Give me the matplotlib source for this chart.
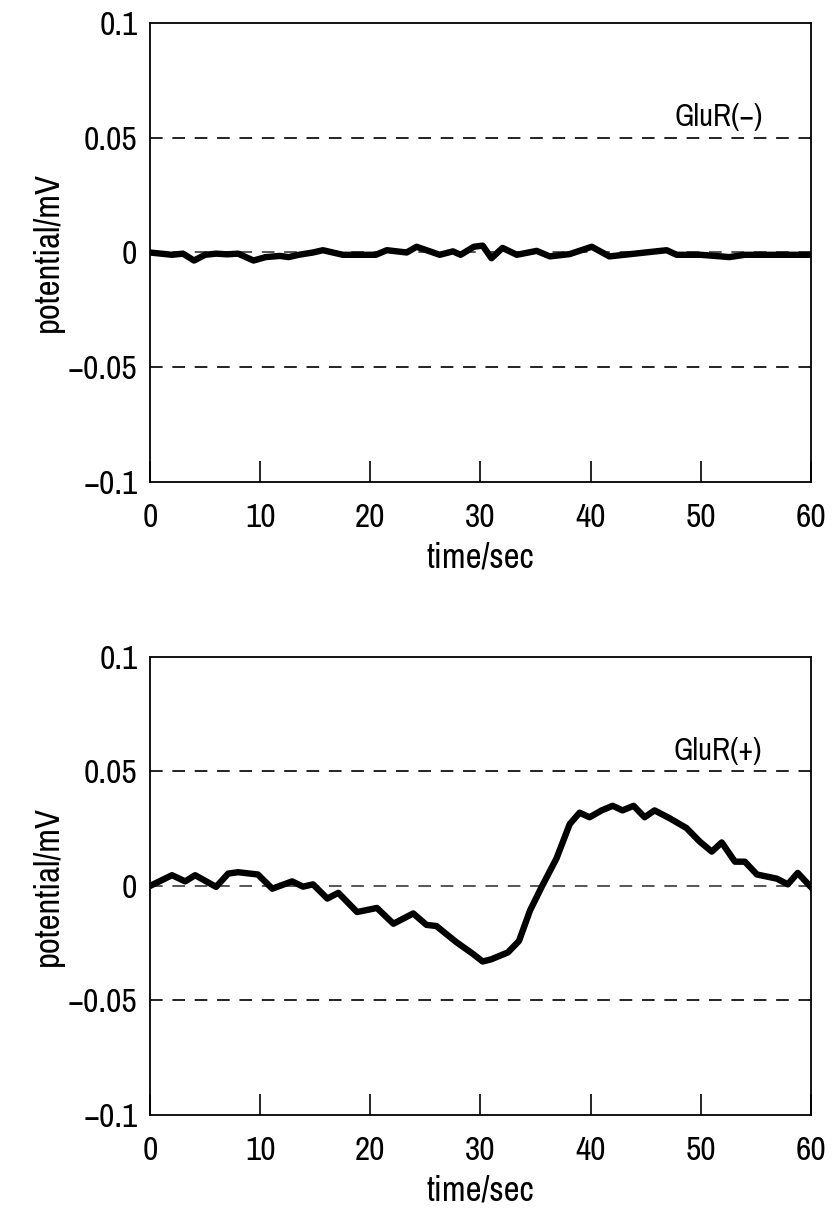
import matplotlib
matplotlib.use("Agg")
import matplotlib.pyplot as plt
from matplotlib import font_manager

# prefer a narrow sans if one is installed, the original uses a condensed face
names = sorted({f.name for f in font_manager.fontManager.ttflist})
narrow = [n for n in names if "Narrow" in n or "Condensed" in n]
plt.rcParams['font.family'] = narrow[:1] + ['Liberation Sans', 'DejaVu Sans']

# GluR(-): trace
t_minus = [0, 1, 2, 3, 4, 5, 6, 7, 8, 9.4, 10.5, 11.8, 12.6, 13.5, 14.8, 15.7,
           17.5, 19, 20.5, 21.5, 23.3, 24.2, 26.3, 27.5, 28.2, 29.4, 30.2, 31,
           32, 33.3, 35.1, 36.3, 38.1, 40.1, 41.7, 44.2, 46.9, 47.8, 50, 52.6,
           54, 57, 60]
v_minus = [0.0, -0.0005, -0.001, -0.0005, -0.0035, -0.001, -0.0005, -0.0008,
           -0.0005, -0.0035, -0.002, -0.0015, -0.002, -0.001, 0.0, 0.001,
           -0.001, -0.001, -0.001, 0.001, 0.0, 0.0025, -0.001, 0.0005, -0.001,
           0.0025, 0.003, -0.0025, 0.002, -0.001, 0.0007, -0.0017, -0.0007,
           0.0025, -0.0017, -0.0004, 0.001, -0.001, -0.001, -0.002, -0.001,
           -0.001, -0.001]

# GluR(+): trace
t_plus = [0, 2.0, 3.2, 4.1, 6.0, 7.1, 8.0, 9.8, 11.1, 12.9, 13.9, 14.8, 16.1,
          17.1, 18.8, 20.6, 22.1, 23.9, 25.1, 26.0, 27.8, 29.3, 30.2, 31.0,
          32.5, 33.5, 34.5, 35.6, 36.9, 38.1, 39.0, 39.9, 41.0, 42.0, 42.9,
          43.9, 44.9, 45.8, 47.2, 48.7, 49.9, 51.0, 51.9, 53.1, 54.0, 55.1,
          56.9, 57.9, 58.8, 60]
v_plus = [0.0, 0.0047, 0.002, 0.0047, -0.0004, 0.0054, 0.006, 0.005, -0.0012,
          0.002, -0.0003, 0.0007, -0.0055, -0.003, -0.0114, -0.0096, -0.0165,
          -0.012, -0.017, -0.0175, -0.0245, -0.0296, -0.033, -0.032, -0.029,
          -0.024, -0.0107, 0.0, 0.012, 0.027, 0.032, 0.030, 0.033, 0.035,
          0.033, 0.035, 0.030, 0.033, 0.0295, 0.0253, 0.0194, 0.015, 0.019,
          0.0106, 0.0106, 0.005, 0.0032, 0.0007, 0.0057, -0.0005]

yticks = [0.1, 0.05, 0, -0.05, -0.1]
ytick_labels = ["0.1", "0.05", "0", "\u22120.05", "\u22120.1"]
xticks = [0, 10, 20, 30, 40, 50, 60]

panels = [
    (t_minus, v_minus, "GluR(\u2212)", [0.1796, 0.6013, 0.7916, 0.3797]),
    (t_plus, v_plus, "GluR(+)", [0.1796, 0.0778, 0.7916, 0.3788]),
]

fig = plt.figure(figsize=(8.35, 12.09), dpi=100)
for t, v, name, rect in panels:
    ax = fig.add_axes(rect)
    for y in (0.05, 0, -0.05):
        ax.axhline(y, color="#222222" if y else "#555555", lw=1.4,
                   dashes=(6.5, 5), zorder=1)
    ax.plot(t, v, color="black", lw=4.6, solid_joinstyle="round", zorder=3)
    ax.text(55.6, 0.059, name, ha="right", va="center", fontsize=22)
    ax.set_xlim(0, 60)
    ax.set_ylim(-0.1, 0.1)
    ax.set_xticks(xticks)
    ax.set_yticks(yticks)
    ax.set_yticklabels(ytick_labels)
    ax.tick_params(axis="x", direction="in", length=15, width=1.2,
                   labelsize=24, pad=15)
    ax.tick_params(axis="y", length=0, labelsize=24, pad=9)
    for s in ax.spines.values():
        s.set_linewidth(1.3)
    ax.set_xlabel("time/sec", fontsize=25, labelpad=6)
    ax.set_ylabel("potential/mV", fontsize=25, labelpad=3)

fig.savefig("out.png", dpi=100)
